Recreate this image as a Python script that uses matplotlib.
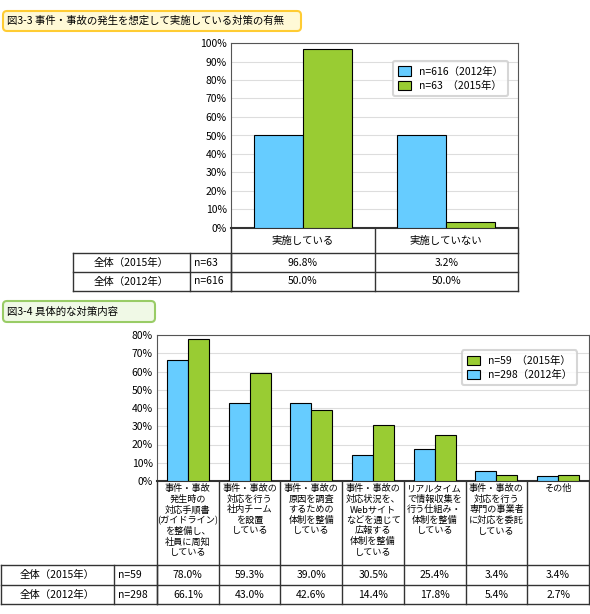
import numpy as np
import matplotlib
matplotlib.use("Agg")
import matplotlib.pyplot as plt
from matplotlib.patches import FancyBboxPatch

plt.rcParams['font.family'] = ['Noto Sans CJK JP', 'DejaVu Sans']
plt.rcParams['font.size'] = 7

W, H = 590, 614
BLUE = '#66ccff'
GREEN = '#99cc33'

# chart 1 data
cats1 = ['実施している', '実施していない']
v1_2015 = [96.8, 3.2]
v1_2012 = [50.0, 50.0]
n1_2015 = 'n=63'
n1_2012 = 'n=616'

# chart 2 data
cats2 = ['事件・事故\n発生時の\n対応手順書\n(ガイドライン)\nを整備し、\n社員に周知\nしている',
         '事件・事故の\n対応を行う\n社内チーム\nを設置\nしている',
         '事件・事故の\n原因を調査\nするための\n体制を整備\nしている',
         '事件・事故の\n対応状況を、\nWebサイト\nなどを通じて\n広報する\n体制を整備\nしている',
         'リアルタイム\nで情報収集を\n行う仕組み・\n体制を整備\nしている',
         '事件・事故の\n対応を行う\n専門の事業者\nに対応を委託\nしている',
         'その他']
v2_2015 = [78.0, 59.3, 39.0, 30.5, 25.4, 3.4, 3.4]
v2_2012 = [66.1, 43.0, 42.6, 14.4, 17.8, 5.4, 2.7]
n2_2015 = 'n=59'
n2_2012 = 'n=298'


def px_axes(fig, x0, y0, x1, y1):
	return fig.add_axes([x0 / W, 1 - y1 / H, (x1 - x0) / W, (y1 - y0) / H])


def hline(ov, x0, x1, y, lw=1.0):
	ov.plot([x0, x1], [y, y], color='#333333', lw=lw)


def vline(ov, x, y0, y1, lw=1.0):
	ov.plot([x, x], [y0, y1], color='#333333', lw=lw)


def bar_chart(fig, box, vals_a, vals_b, col_a, col_b, lab_a, lab_b, ymax, legend_order):
	ax = px_axes(fig, *box)
	x = np.arange(len(vals_a))
	w = 0.34
	ba = ax.bar(x - w / 2, vals_a, w, color=col_a, edgecolor='black', lw=0.8, zorder=3, label=lab_a)
	bb = ax.bar(x + w / 2, vals_b, w, color=col_b, edgecolor='black', lw=0.8, zorder=3, label=lab_b)
	ax.set_xlim(-0.5, len(vals_a) - 0.5)
	ax.set_ylim(0, ymax)
	ax.set_yticks(np.arange(0, ymax + 1, 10))
	ax.set_yticklabels(['%d%%' % t for t in np.arange(0, ymax + 1, 10)], fontsize=7.5)
	ax.set_xticks([])
	ax.tick_params(axis='y', length=0, pad=3)
	ax.grid(axis='y', color='#dddddd', lw=0.8, zorder=0)
	for s in ax.spines.values():
		s.set_color('#555555')
	ax.spines['bottom'].set_color('#333333')
	ax.spines['bottom'].set_linewidth(1.5)
	handles = [ba, bb] if legend_order == 'ab' else [bb, ba]
	leg = ax.legend(handles=handles, loc='upper right', fontsize=7.5, frameon=True,
		handlelength=1.2, handleheight=1.0, borderpad=0.5, labelspacing=0.4,
		bbox_to_anchor=(0.985, 0.93))
	leg.get_frame().set_edgecolor('#cccccc')
	leg.get_frame().set_linewidth(1.5)
	return ax


fig = plt.figure(figsize=(W / 100, H / 100), dpi=100)
ov = fig.add_axes([0, 0, 1, 1])
ov.set_xlim(0, W)
ov.set_ylim(H, 0)
ov.axis('off')

# title boxes
ov.add_patch(FancyBboxPatch((3, 11), 298, 20, boxstyle='round,pad=0,rounding_size=4',
	facecolor='#fff9d6', edgecolor='#ffcc33', lw=1.5))
ov.text(7, 21, '図3-3 事件・事故の発生を想定して実施している対策の有無', va='center', fontsize=7.5)
ov.add_patch(FancyBboxPatch((3, 301), 152, 21, boxstyle='round,pad=0,rounding_size=4',
	facecolor='#f0f9e6', edgecolor='#99cc66', lw=1.5))
ov.text(7, 311.5, '図3-4 具体的な対策内容', va='center', fontsize=7.5)

# chart 1
ax1x0, ax1x1 = 231, 518
bar_chart(fig, (ax1x0, 43, ax1x1, 228), v1_2012, v1_2015, BLUE, GREEN,
	n1_2012 + '（2012年）', n1_2015 + '  （2015年）', 100, 'ab')
edges1 = np.linspace(ax1x0, ax1x1, len(cats1) + 1)
rows1 = [228, 253, 272, 291]
t1x = [73, 190, ax1x0]
for e in edges1:
	vline(ov, e, rows1[0], rows1[-1])
for xx in t1x:
	vline(ov, xx, rows1[1], rows1[-1])
for yy in rows1[1:]:
	hline(ov, t1x[0], ax1x1, yy)
for i, c in enumerate(cats1):
	xc = (edges1[i] + edges1[i + 1]) / 2
	ov.text(xc, 240.5, c, ha='center', va='center', fontsize=7.5)
	ov.text(xc, 262.5, '%.1f%%' % v1_2015[i], ha='center', va='center', fontsize=7.5)
	ov.text(xc, 281.5, '%.1f%%' % v1_2012[i], ha='center', va='center', fontsize=7.5)
ov.text((t1x[0] + t1x[1]) / 2, 262.5, '全体（2015年）', ha='center', va='center', fontsize=7.5)
ov.text((t1x[0] + t1x[1]) / 2, 281.5, '全体（2012年）', ha='center', va='center', fontsize=7.5)
ov.text(t1x[1] + 4, 262.5, n1_2015, ha='left', va='center', fontsize=7.5)
ov.text(t1x[1] + 4, 281.5, n1_2012, ha='left', va='center', fontsize=7.5)

# chart 2
ax2x0, ax2x1 = 157, 589
bar_chart(fig, (ax2x0, 335, ax2x1, 481), v2_2012, v2_2015, BLUE, GREEN,
	n2_2012 + '（2012年）', n2_2015 + '  （2015年）', 80, 'ba')
edges2 = np.linspace(ax2x0, ax2x1, len(cats2) + 1)
rows2 = [481, 565, 585, 604]
t2x = [1, 114, ax2x0]
for e in edges2:
	vline(ov, e, rows2[0], rows2[-1])
for xx in t2x:
	vline(ov, xx, rows2[1], rows2[-1])
for yy in rows2[1:]:
	hline(ov, t2x[0], ax2x1, yy)
for i, c in enumerate(cats2):
	xc = (edges2[i] + edges2[i + 1]) / 2
	ov.text(xc, 484, c, ha='center', va='top', fontsize=6.6, linespacing=1.22)
	ov.text(xc, 575, '%.1f%%' % v2_2015[i], ha='center', va='center', fontsize=7.5)
	ov.text(xc, 594.5, '%.1f%%' % v2_2012[i], ha='center', va='center', fontsize=7.5)
ov.text((t2x[0] + t2x[1]) / 2, 575, '全体（2015年）', ha='center', va='center', fontsize=7.5)
ov.text((t2x[0] + t2x[1]) / 2, 594.5, '全体（2012年）', ha='center', va='center', fontsize=7.5)
ov.text(t2x[1] + 4, 575, n2_2015, ha='left', va='center', fontsize=7.5)
ov.text(t2x[1] + 4, 594.5, n2_2012, ha='left', va='center', fontsize=7.5)

fig.savefig('out.png', dpi=100, facecolor='white')
